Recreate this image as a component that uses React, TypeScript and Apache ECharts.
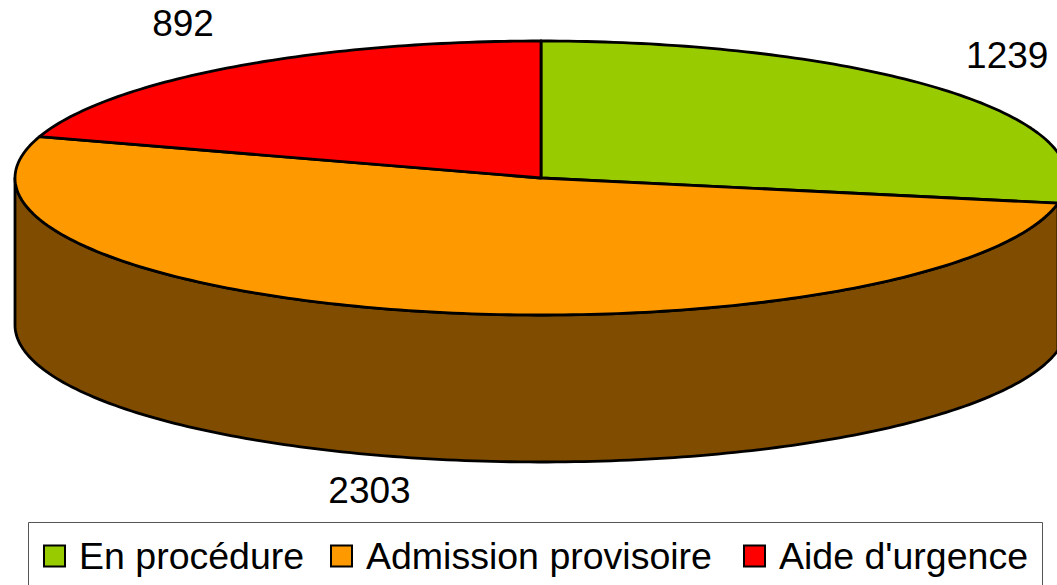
import React, { useEffect, useRef } from 'react';
import * as echarts from 'echarts';

const categories = ['En procédure', 'Admission provisoire', "Aide d'urgence"];
const values = [1239, 2303, 892];
const topColors = ['#99CC00', '#FF9900', '#FF0000'];
const sideColors = ['#4C6600', '#7F4C00', '#800000'];

// layout of the 3D pie (pixels)
const CX = 541;
const CY = 178;
const RX = 526;
const RY = 137;
const DEPTH = 147;
const FONT = '37px "Liberation Sans", Arial, sans-serif';
const legendLefts = [43, 330, 743];

const total = values.reduce((a, b) => a + b, 0);
const starts = values.map((_, i) => (values.slice(0, i).reduce((a, b) => a + b, 0) / total) * 360);

function pt(deg: number, dy: number): number[] {
  const r = (deg * Math.PI) / 180;
  return [CX + RX * Math.sin(r), CY - RY * Math.cos(r) + dy];
}

function arc(a0: number, a1: number, dy: number): number[][] {
  const n = Math.max(2, Math.ceil(Math.abs(a1 - a0)) + 1);
  const pts: number[][] = [];
  for (let k = 0; k < n; k++) {
    pts.push(pt(a0 + ((a1 - a0) * k) / (n - 1), dy));
  }
  return pts;
}

function makeRender(i: number) {
  return (_params: any, api: any) => {
    const v = api.value(0) as number;
    const a0 = starts[i];
    const a1 = a0 + (v / total) * 360;
    const children: any[] = [];
    const s = Math.max(a0, 90);
    const e = Math.min(a1, 270);
    if (e > s) {
      const top = arc(s, e, 0);
      const bot = arc(s, e, DEPTH).reverse();
      children.push({
        type: 'polygon',
        shape: { points: [...top, ...bot] },
        style: { fill: sideColors[i], stroke: '#000', lineWidth: 2.8, lineJoin: 'round' },
      });
    }
    children.push({
      type: 'polygon',
      shape: { points: [[CX, CY], ...arc(a0, a1, 0)] },
      style: { fill: topColors[i], stroke: '#000', lineWidth: 2.8, lineJoin: 'round' },
    });
    const mid = ((a0 + a1) / 2) * Math.PI / 180;
    const front = Math.cos(mid) < 0;
    const lx = CX + (RX + 80) * Math.sin(mid) - (front ? 24 : 0);
    const ly = CY - (RY + 55) * Math.cos(mid) + (front ? DEPTH * 0.86 : 0);
    children.push({
      type: 'text',
      style: {
        text: String(v),
        x: lx,
        y: ly,
        align: 'center',
        verticalAlign: 'middle',
        font: FONT,
        fill: '#000',
      },
    });
    return { type: 'group', children };
  };
}

export default function App() {
  const ref = useRef<HTMLDivElement>(null);
  useEffect(() => {
    if (!ref.current) return;
    const chart = echarts.init(ref.current, undefined, { renderer: 'svg' });
    chart.setOption({
      animation: false,
      backgroundColor: '#fff',
      legend: categories.map((c, i) => ({
        data: [c],
        left: legendLefts[i],
        top: 537,
        icon: 'rect',
        itemWidth: 21,
        itemHeight: 21,
        padding: 0,
        selectedMode: false,
        itemStyle: { borderColor: '#000', borderWidth: 2 },
        textStyle: {
          fontSize: 37.5,
          fontFamily: '"Liberation Sans", Arial, sans-serif',
          color: '#000',
          padding: [0, 0, 0, 9],
        },
      })),
      graphic: [
        {
          type: 'rect',
          shape: { x: 28.5, y: 522.5, width: 1014, height: 80 },
          style: { fill: 'none', stroke: '#555', lineWidth: 1 },
          z: -1,
        },
      ],
      series: categories.map((c, i) => ({
        type: 'custom',
        name: c,
        coordinateSystem: 'none',
        silent: true,
        itemStyle: { color: topColors[i] },
        data: [[values[i]]],
        renderItem: makeRender(i),
      })),
    });
    return () => chart.dispose();
  }, []);
  return (
    <div
      ref={ref}
      style={{ position: 'fixed', left: 0, top: 0, width: 1057, height: 585 }}
    />
  );
}
